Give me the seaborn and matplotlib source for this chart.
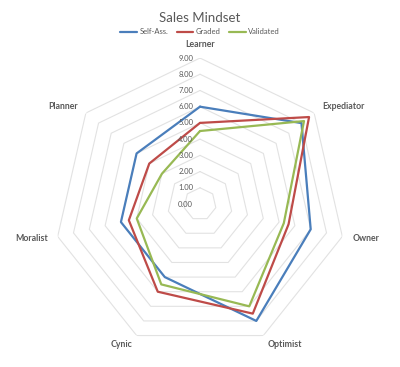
import numpy as np
import pandas as pd
import matplotlib
matplotlib.use("Agg")
import matplotlib.pyplot as plt
import seaborn as sns
from matplotlib.lines import Line2D

# ---------------------------------------------------------------------------
# Data
# ---------------------------------------------------------------------------
categories = ["Learner", "Expediator", "Owner", "Optimist", "Cynic", "Moralist", "Planner"]
self_ass   = [6.0, 8.0, 7.0, 8.0, 5.0, 5.0, 5.0]
graded     = [5.0, 8.6, 5.6, 7.5, 6.0, 4.5, 4.0]
validated  = [4.5, 8.2, 5.3, 7.0, 5.5, 4.0, 3.0]
series_names = ["Self-Ass.", "Graded", "Validated"]
ring_ticks = [0, 1, 2, 3, 4, 5, 6, 7, 8, 9]

colors = {"Self-Ass.": "#4A7EBB", "Graded": "#BE4B48", "Validated": "#98B954"}

sns.set_theme(style="white")
plt.rcParams["font.family"] = ["Lato", "DejaVu Sans"]

n = len(categories)
angles = np.linspace(0, 2 * np.pi, n, endpoint=False)
closed_angles = np.append(angles, angles[0])

rows = []
for name, vals in zip(series_names, [self_ass, graded, validated]):
    for i, a in enumerate(closed_angles):
        rows.append({"series": name, "angle": a, "value": vals[i % n]})
df = pd.DataFrame(rows)

# ---------------------------------------------------------------------------
# Figure
# ---------------------------------------------------------------------------
fig = plt.figure(figsize=(4.0, 3.67), dpi=100)
ax = fig.add_axes([0.135, 0.0463, 0.73, 0.7956], projection="polar")
ax.set_theta_offset(np.pi / 2)
ax.set_theta_direction(-1)
ax.set_ylim(0, 9)
ax.grid(False)
ax.spines["polar"].set_visible(False)
ax.set_xticks([])
ax.set_yticks([])
ax.patch.set_alpha(0)

# heptagon grid rings
for r in ring_ticks[1:]:
    ax.plot(closed_angles, [r] * len(closed_angles), color="#E2E2E2", lw=0.8, zorder=1)

sns.lineplot(data=df, x="angle", y="value", hue="series", palette=colors,
             sort=False, estimator=None, units="series", lw=1.6, ax=ax,
             legend=False, zorder=3)
ax.set_xlabel("")
ax.set_ylabel("")

# radial tick labels left of the Learner axis
for r in ring_ticks:
    ax.annotate(f"{r:.2f}", xy=(0, r), xytext=(-5, 0), textcoords="offset points",
                ha="right", va="center", fontsize=5.5, color="#595959")

# category labels
for a, cat in zip(angles, categories):
    s = np.sin(a)
    c = np.cos(a)
    ha = "left" if s > 0.1 else ("right" if s < -0.1 else "center")
    ax.annotate(cat, xy=(a, 9), xytext=(7.5 * s, 7.5 * c + (2 if c > 0.9 else 0)),
                textcoords="offset points", ha=ha, va="center",
                fontsize=6.3, fontweight="bold", color="#595959")

fig.text(0.5, 0.951, "Sales Mindset", ha="center", va="center",
         fontsize=9.5, color="#595959")

handles = [Line2D([0], [0], color=colors[s], lw=1.6) for s in series_names]
fig.legend(handles, series_names, loc="center", bbox_to_anchor=(0.5, 0.913),
           ncol=3, frameon=False, fontsize=5.5, handlelength=2.2,
           handletextpad=0.3, columnspacing=1.1, labelcolor="#595959")

fig.savefig("out.png", dpi=100)
plt.close(fig)
